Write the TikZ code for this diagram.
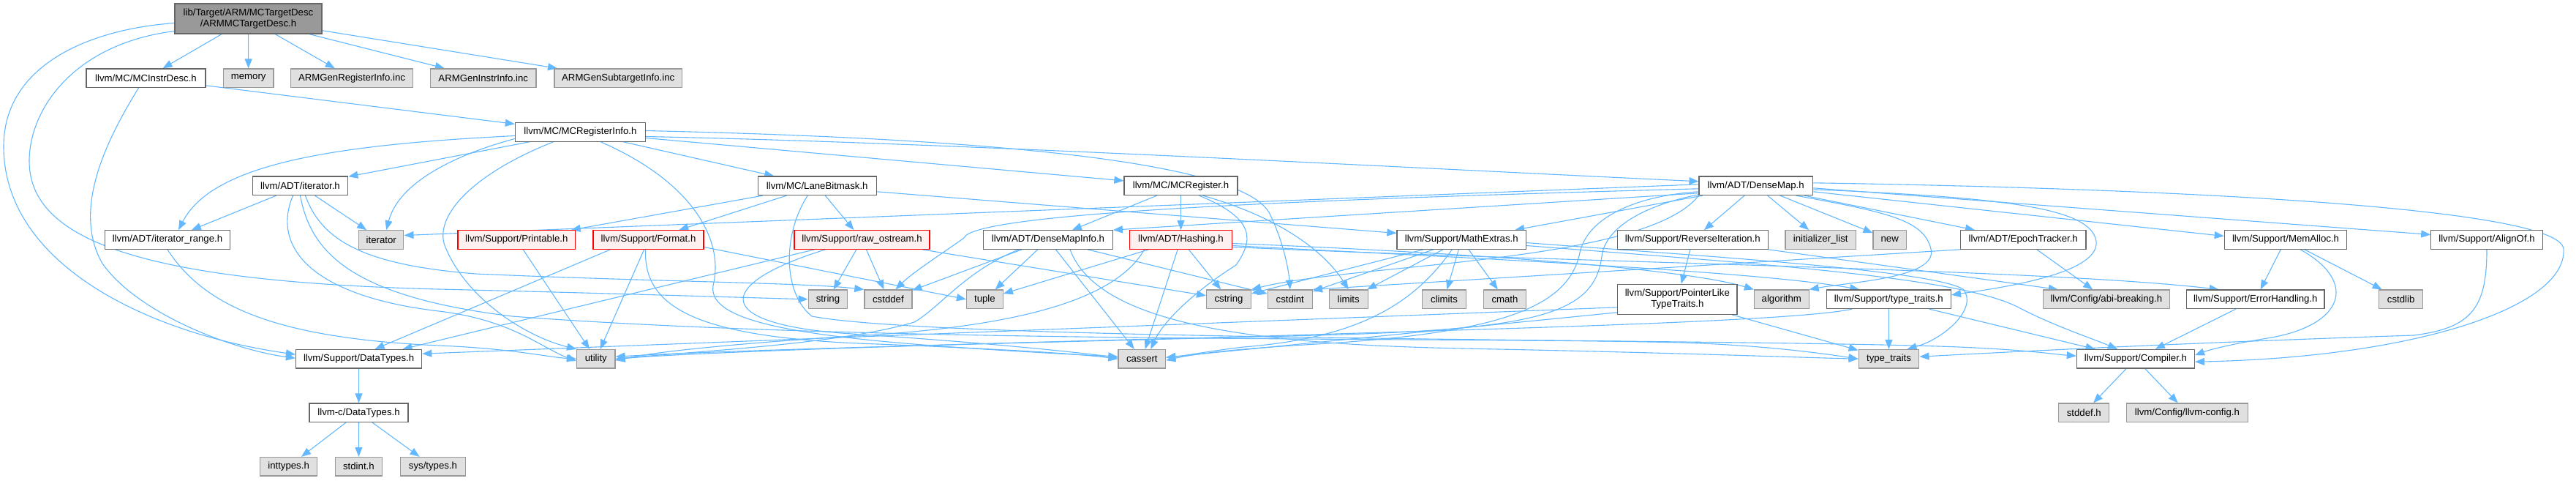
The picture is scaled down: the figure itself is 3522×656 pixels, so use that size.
\documentclass[tikz,border=0pt]{standalone}
\usepackage{fontspec}
\setmainfont{Liberation Sans}
\usetikzlibrary{arrows.meta}
\pgfdeclarelayer{bg}
\pgfsetlayers{bg,main}
\definecolor{edgec}{HTML}{63B8FF}
\definecolor{wborder}{HTML}{666666}
\definecolor{gborder}{HTML}{999999}
\definecolor{gfill}{HTML}{E0E0E0}
\definecolor{rfill}{HTML}{FFF0F0}
\definecolor{rborder}{HTML}{FF0000}
\definecolor{topfill}{HTML}{999999}
\begin{document}
\begin{tikzpicture}[x=1pt,y=-1pt,
  base/.style={rectangle, inner sep=0pt, minimum height=25.5pt, line width=1.2pt, font=\fontsize{13.2}{15.5}\selectfont, text=black},
  wnode/.style={base, draw=wborder, fill=white},
  gnode/.style={base, draw=gborder, fill=gfill},
  rnode/.style={base, draw=rborder, fill=rfill},
  tnode/.style={base, draw=wborder, fill=topfill, minimum height=41pt, align=center},
  edg/.style={draw=edgec, line width=1.1pt, -{Triangle[length=13pt,width=10pt]}},
]
\useasboundingbox (0,0) rectangle (3522,656);
% row 1
\node[tnode, minimum width=201pt] (A) at (339.5,25.5) {lib/Target/ARM/MCTargetDesc\\/ARMMCTargetDesc.h};
% row 2
\node[wnode, minimum width=163pt] (I) at (199.5,106.7) {llvm/MC/MCInstrDesc.h};
\node[gnode, minimum width=68.6pt] (memory) at (339.7,106.7) {memory};
\node[gnode, minimum width=167.6pt] (genreg) at (481,106.7) {ARMGenRegisterInfo.inc};
\node[gnode, minimum width=144.6pt] (geninstr) at (660.7,106.7) {ARMGenInstrInfo.inc};
\node[gnode, minimum width=174.5pt] (gensub) at (845.2,106.7) {ARMGenSubtargetInfo.inc};
% row 3
\node[wnode, minimum width=178pt] (R) at (793.4,180.5) {llvm/MC/MCRegisterInfo.h};
% row 4
\node[wnode, minimum width=130.5pt] (T) at (410.5,253.8) {llvm/ADT/iterator.h};
\node[wnode, minimum width=162pt] (L) at (1117.2,253.8) {llvm/MC/LaneBitmask.h};
\node[wnode, minimum width=155pt] (G) at (1614.5,253.8) {llvm/MC/MCRegister.h};
\node[wnode, minimum width=155.4pt] (D) at (2400.7,253.8) {llvm/ADT/DenseMap.h};
% row 5
\node[wnode, minimum width=171pt] (N) at (229,327.5) {llvm/ADT/iterator\_range.h};
\node[gnode, minimum width=61.3pt] (it) at (521.2,327.5) {iterator};
\node[rnode, minimum width=160.7pt] (P) at (706.3,327.5) {llvm/Support/Printable.h};
\node[rnode, minimum width=151pt] (O) at (886.5,327.5) {llvm/Support/Format.h};
\node[rnode, minimum width=185pt] (W) at (1178.5,327.5) {llvm/Support/raw\_ostream.h};
\node[wnode, minimum width=176.5pt] (F) at (1433,327.5) {llvm/ADT/DenseMapInfo.h};
\node[rnode, minimum width=139.7pt] (H) at (1614.5,327.5) {llvm/ADT/Hashing.h};
\node[wnode, minimum width=176.5pt] (M) at (1998.2,327.5) {llvm/Support/MathExtras.h};
\node[wnode, minimum width=205.7pt] (V) at (2314.3,327.5) {llvm/Support/ReverseIteration.h};
\node[gnode, minimum width=96.4pt] (initl) at (2489.2,327.5) {initializer\_list};
\node[gnode, minimum width=45.3pt] (new) at (2583.7,327.5) {new};
\node[wnode, minimum width=171.5pt] (E) at (2766.2,327.5) {llvm/ADT/EpochTracker.h};
\node[wnode, minimum width=167.4pt] (Y) at (3125,327.5) {llvm/Support/MemAlloc.h};
\node[wnode, minimum width=152.4pt] (Q) at (3400,327.5) {llvm/Support/AlignOf.h};
% row 6
\node[gnode, minimum width=53.6pt] (string) at (1132,408.8) {string};
\node[gnode, minimum width=65pt] (cstddef) at (1214.4,408.8) {cstddef};
\node[gnode, minimum width=49.8pt] (tuple) at (1346.4,408.8) {tuple};
\node[gnode, minimum width=60.8pt] (cstring) at (1680,408.8) {cstring};
\node[gnode, minimum width=61pt] (cstdint) at (1763.8,408.8) {cstdint};
\node[gnode, minimum width=52.8pt] (limits) at (1843.7,408.8) {limits};
\node[gnode, minimum width=59.7pt] (climits) at (1974.5,408.8) {climits};
\node[gnode, minimum width=57.8pt] (cmath) at (2057.5,408.8) {cmath};
\node[wnode, minimum width=163.5pt, minimum height=41pt, align=center] (K) at (2293.3,408.8) {llvm/Support/PointerLike\\TypeTraits.h};
\node[gnode, minimum width=74.6pt] (algorithm) at (2435.8,408.8) {algorithm};
\node[wnode, minimum width=170.3pt] (X) at (2582.3,408.8) {llvm/Support/type\_traits.h};
\node[gnode, minimum width=172.8pt] (abi) at (2879.8,408.8) {llvm/Config/abi-breaking.h};
\node[wnode, minimum width=188.4pt] (Z) at (3083.8,408.8) {llvm/Support/ErrorHandling.h};
\node[gnode, minimum width=60pt] (cstdlib) at (3282.6,408.8) {cstdlib};
% row 7
\node[wnode, minimum width=172.2pt] (S) at (490.6,490.2) {llvm/Support/DataTypes.h};
\node[gnode, minimum width=52.4pt] (utility) at (814.8,490.2) {utility};
\node[gnode, minimum width=64.7pt] (cassert) at (1561.3,490.2) {cassert};
\node[gnode, minimum width=82.7pt] (tt) at (2582.5,490.2) {type\_traits};
\node[wnode, minimum width=161pt] (C) at (2919.9,490.2) {llvm/Support/Compiler.h};
% row 8
\node[wnode, minimum width=135pt] (U) at (490.5,563.7) {llvm-c/DataTypes.h};
\node[gnode, minimum width=69pt] (stddef) at (2849.3,563.7) {stddef.h};
\node[gnode, minimum width=165.8pt] (lconf) at (2990.4,563.7) {llvm/Config/llvm-config.h};
% row 9
\node[gnode, minimum width=78pt] (inttypes) at (394.6,637.2) {inttypes.h};
\node[gnode, minimum width=64pt] (stdint) at (490.4,637.2) {stdint.h};
\node[gnode, minimum width=89.3pt] (systypes) at (592,637.2) {sys/types.h};

\begin{pgfonlayer}{bg}
\fill[white] (0,0) rectangle (3522,656);
% A
\draw[edg] (A) -- (I);
\draw[edg] (A) -- (memory);
\draw[edg] (A) -- (genreg);
\draw[edg] (A) -- (geninstr);
\draw[edg] (A) -- (gensub);
\draw[edg] ([yshift=-6pt]A.west) .. controls (120,40) and (5,90) .. (5,200) .. controls (5,360) and (200,455) .. ([yshift=6pt]S.west);
\draw[edg] ([yshift=-17pt]A.west) .. controls (100,60) and (40,150) .. (40,220) .. controls (40,330) and (200,385) .. (600,395) .. controls (850,401) and (1000,406) .. (string.west);
% I
\draw[edg] (I) -- (R);
\draw[edg] ([xshift=-10pt]I.south) .. controls (140,200) and (100,290) .. (140,360) .. controls (190,430) and (320,478) .. ([yshift=1pt]S.west);
% R
\draw[edg] (R) -- (T);
\draw[edg] (R) -- (L);
\draw[edg] (R) -- (G);
\draw[edg] ([yshift=-6pt]R.east) .. controls (1300,195) and (1900,228) .. ([yshift=6pt]D.west);
\draw[edg] ([yshift=2pt]R.east) .. controls (1300,188) and (1690,215) .. (1735,290) .. controls (1755,330) and (1762,370) .. (cstdint.north);
\draw[edg] ([yshift=-5pt]R.west) .. controls (450,198) and (290,225) .. ([xshift=15pt]N.north);
\draw[edg] ([yshift=-9pt]R.west) .. controls (620,212) and (545,250) .. ([xshift=7pt]it.north);
\draw[edg] ([xshift=-37pt]R.south) .. controls (640,240) and (590,300) .. (610,340) .. controls (640,410) and (720,460) .. (utility.north west);
\draw[edg] ([xshift=28pt]R.south) .. controls (950,250) and (990,330) .. (975,390) .. controls (965,450) and (1150,468) .. ([yshift=3pt]cassert.west);
% T
\draw[edg] (T) -- (N);
\draw[edg] (T) -- (it);
\draw[edg] ([xshift=7pt]T.south) .. controls (440,330) and (500,362) .. (650,374) .. controls (900,385) and (1100,386) .. (cstddef.north west);
\draw[edg] ([xshift=-10pt]T.south) .. controls (370,340) and (430,405) .. (600,425) .. controls (700,437) and (740,475) .. ([yshift=-3pt]utility.west);
\draw[edg] (T.south) .. controls (425,345) and (480,405) .. (700,432) .. controls (1200,470) and (2000,460) .. (2300,468) .. controls (2420,472) and (2500,484) .. (tt.west);
% N
\draw[edg] (N.south) .. controls (280,420) and (380,462) .. (600,472) .. controls (700,476) and (750,488) .. (utility.west);
% L
\draw[edg] (L) -- (P);
\draw[edg] (L) -- (O);
\draw[edg] (L) -- (W);
\draw[edg] ([yshift=-8pt]L.east) -- ([yshift=9pt]M.west);
\draw[edg] ([xshift=-13pt]L.south) .. controls (1070,320) and (1070,400) .. (1110,432) .. controls (1300,468) and (2450,462) .. (2700,475) .. controls (2780,479) and (2810,484) .. ([yshift=4pt]C.west);
% G
\draw[edg] (G) -- (F);
\draw[edg] (G) -- (H);
\draw[edg] ([xshift=25pt]G.south) .. controls (1720,300) and (1712,330) .. (1690,362) .. controls (1630,400) and (1590,440) .. ([xshift=12pt]cassert.north);
\draw[edg] ([xshift=30pt]G.south) .. controls (1760,300) and (1815,350) .. (limits.north);
% D
\draw[edg] (D) -- (M);
\draw[edg] (D) -- (V);
\draw[edg] (D) -- (initl);
\draw[edg] (D) -- (new);
\draw[edg] (D) -- (E);
\draw[edg] ([yshift=-8pt]D.east) -- ([yshift=5pt]Y.west);
\draw[edg] ([yshift=-3pt]D.east) -- ([yshift=7pt]Q.west);
\draw[edg] ([yshift=4pt]D.east) .. controls (3000,258) and (3500,285) .. (3505,340) .. controls (3510,420) and (3300,488) .. ([yshift=-4pt]C.east);
\draw[edg] ([yshift=-10pt]D.west) -- (F.north east);
\draw[edg] ([yshift=-4pt]D.west) .. controls (1800,272) and (1330,290) .. (1318,325) .. controls (1290,345) and (1248,372) .. ([xshift=10pt]cstddef.north);
\draw[edg] ([yshift=2pt]D.west) -- ([yshift=6pt]it.east);
\draw[edg] (D.south west) .. controls (2250,360) and (1850,360) .. (cstring.north east);
\draw[edg] ([yshift=-8pt]D.west) .. controls (2230,268) and (2170,300) .. (2160,345) .. controls (2145,420) and (2050,455) .. (1800,470) .. controls (1680,477) and (1630,484) .. ([yshift=-2pt]cassert.east);
\draw[edg] ([yshift=-12pt]D.west) .. controls (2250,280) and (2195,310) .. (2190,350) .. controls (2180,430) and (2100,450) .. (1800,458) .. controls (1400,468) and (1000,478) .. ([yshift=3pt]utility.east);
\draw[edg] ([xshift=55pt]D.south) .. controls (2580,290) and (2630,300) .. (2640,340) .. controls (2650,380) and (2530,385) .. (algorithm.north east);
\draw[edg] ([yshift=-5pt]D.east) .. controls (2750,270) and (2860,285) .. (2866,330) .. controls (2870,370) and (2760,390) .. ([yshift=6pt]X.east);
% F
\draw[edg] (F) -- (cassert);
\draw[edg] (F) -- (cstddef);
\draw[edg] (F) -- (tuple);
\draw[edg] (F) -- (cstdint);
\draw[edg] ([xshift=30pt]F.south) .. controls (1500,440) and (1700,470) .. (2000,476) .. controls (2300,482) and (2450,488) .. (tt.west);
\draw[edg] ([xshift=-40pt]F.south) .. controls (1320,370) and (1285,420) .. (1250,440) .. controls (1150,470) and (950,480) .. (utility.east);
% H
\draw[edg] (H) -- (cassert);
\draw[edg] (H) -- (cstring);
\draw[edg] (H) -- (tuple);
\draw[edg] ([xshift=-50pt]H.south) .. controls (1520,420) and (1350,450) .. (1150,460) .. controls (1000,470) and (900,480) .. ([yshift=-2pt]utility.east);
\draw[edg] ([yshift=-5pt]H.east) .. controls (2000,345) and (2300,366) .. (algorithm.north west);
\draw[edg] ([yshift=-8pt]H.east) .. controls (2000,352) and (2400,370) .. ([xshift=-40pt]X.north);
\draw[edg] ([yshift=-10pt]H.east) .. controls (2200,360) and (2800,368) .. ([xshift=-50pt]Z.north);
% W
\draw[edg] (W) -- (cstddef);
\draw[edg] (W) -- (string);
\draw[edg] (W) -- (cstring);
\draw[edg] ([xshift=-65pt]W.south) -- ([xshift=60pt]S.north);
\draw[edg] ([xshift=-50pt]W.south) .. controls (985,385) and (965,440) .. (1150,455) .. controls (1350,468) and (1460,480) .. ([yshift=2pt]cassert.west);
% O
\draw[edg] ([xshift=-52pt]O.south) -- ([xshift=22pt]S.north);
\draw[edg] (O) -- (utility);
\draw[edg] ([xshift=-4pt]O.south) .. controls (880,420) and (950,462) .. (1200,470) .. controls (1400,478) and (1480,484) .. (cassert.west);
\draw[edg] ([yshift=-10pt]O.east) -- (tuple.west);
% P
\draw[edg] (P) -- (utility);
% M
\draw[edg] (M) -- (climits);
\draw[edg] (M) -- (cmath);
\draw[edg] (M) -- (limits);
\draw[edg] (M) -- (cstdint);
\draw[edg] (M) -- (cstring);
\draw[edg] ([xshift=-13pt]M.south) .. controls (1930,420) and (1850,462) .. (1700,474) .. controls (1650,480) and (1620,486) .. ([yshift=2pt]cassert.east);
\draw[edg] ([yshift=-4pt]M.east) .. controls (2300,348) and (2640,368) .. (2684,395) .. controls (2705,420) and (2660,462) .. ([xshift=25pt]tt.north);
\draw[edg] ([yshift=-8pt]M.east) .. controls (2400,360) and (2680,378) .. (2760,420) .. controls (2810,446) and (2860,462) .. ([xshift=-25pt]C.north);
% V
\draw[edg] (V) -- (K);
\draw[edg] (V.south east) -- ([xshift=-66pt]abi.north);
% K
\draw[edg] ([yshift=-11pt]K.west) -- ([yshift=7pt]S.east);
\draw[edg] ([yshift=-18pt]K.west) -- ([yshift=2pt]cassert.east);
\draw[edg] (K) -- (tt);
% E
\draw[edg] (E) -- (abi);
\draw[edg] (E.south west) -- (cstdint.north east);
% Y
\draw[edg] (Y) -- (Z);
\draw[edg] (Y) -- (cstdlib);
\draw[edg] ([xshift=20pt]Y.south) .. controls (3225,385) and (3205,445) .. (3100,462) .. controls (3050,470) and (3020,478) .. ([yshift=5pt]C.east);
% Q
\draw[edg] (Q.south) .. controls (3400,420) and (3380,448) .. (3300,458) .. controls (3000,468) and (2800,478) .. ([yshift=3pt]tt.east);
% X
\draw[edg] (X) -- (tt);
\draw[edg] (X) -- (C);
\draw[edg] ([xshift=-50pt]X.south) .. controls (2450,440) and (2000,450) .. (1700,460) .. controls (1200,472) and (900,484) .. ([yshift=-1pt]utility.east);
% Z, C, S, U
\draw[edg] (Z) -- (C);
\draw[edg] (C) -- (stddef);
\draw[edg] (C) -- (lconf);
\draw[edg] (S) -- (U);
\draw[edg] (U) -- (inttypes);
\draw[edg] (U) -- (stdint);
\draw[edg] (U) -- (systypes);
\end{pgfonlayer}
\end{tikzpicture}
\end{document}
